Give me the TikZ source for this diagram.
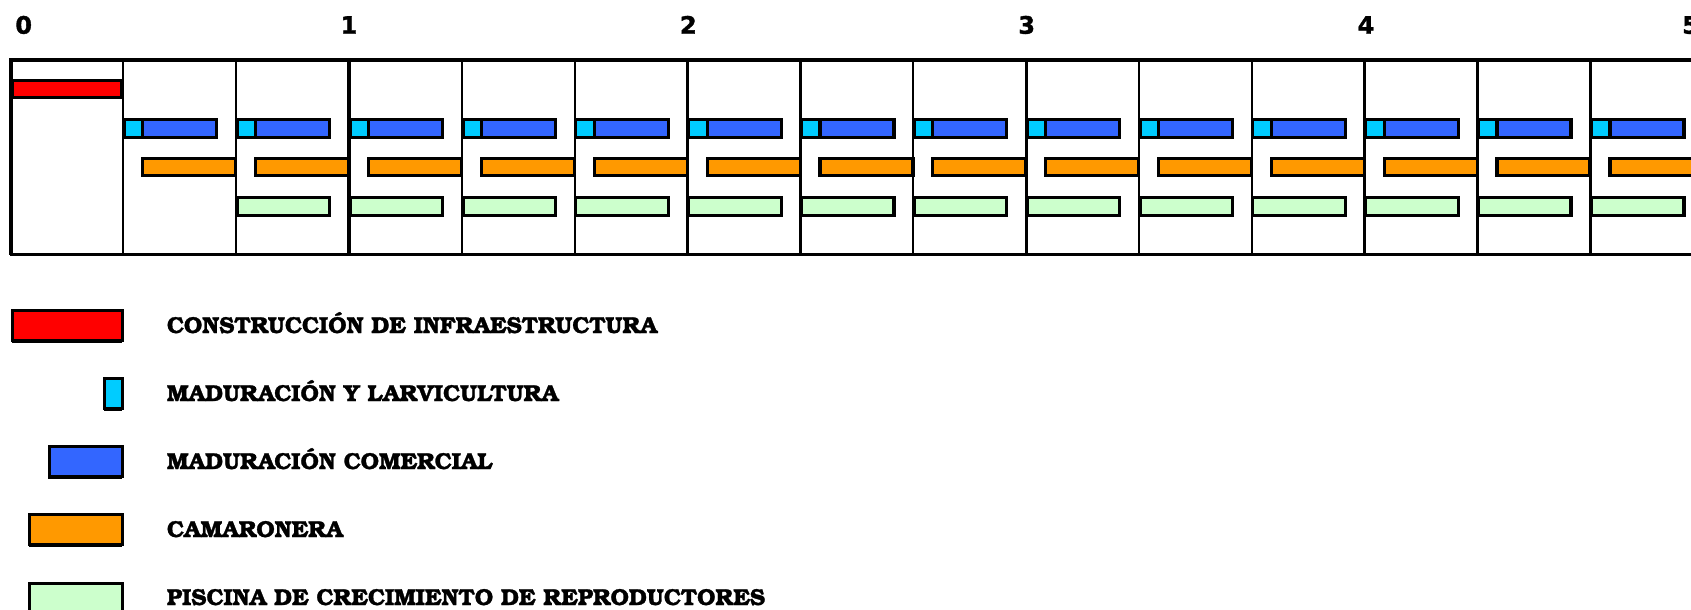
\documentclass[tikz,border=0pt]{standalone}
\usepackage{fontspec}
\newfontfamily\legendfont{TeX Gyre Bonum}[BoldFeatures={FakeBold=1.2}]
\newfontfamily\numfont{DejaVu Sans}[BoldFeatures={FakeBold=1.5}]
\definecolor{cred}{HTML}{FF0000}
\definecolor{ccyan}{HTML}{00CCFF}
\definecolor{cblue}{HTML}{3366FF}
\definecolor{corange}{HTML}{FF9900}
\definecolor{cgreen}{HTML}{CCFFCC}
\tikzset{
  bar/.style={draw=black, line width=3.2pt},
  thickline/.style={draw=black, line width=3.2pt},
  thinline/.style={draw=black, line width=2.2pt},
  yearlabel/.style={font=\numfont\bfseries\fontsize{24}{27}\selectfont, inner sep=0pt, anchor=base},
  legendtext/.style={font=\legendfont\bfseries\fontsize{23}{26}\selectfont, inner sep=0pt, anchor=base west},
  swatch/.style={draw=black, line width=3.2pt},
  shadowbox/.style={fill=black, draw=none}
}
\begin{document}
\begin{tikzpicture}[x=1pt,y=-1pt]
\useasboundingbox (0,0) rectangle (1691,610);
\clip (0,0) rectangle (1691,610);
% year labels
\node[yearlabel] (y0) at (23.7,33.7) {0};
\node[yearlabel] (y1) at (349,33.7) {1};
\node[yearlabel] (y2) at (688.3,33.7) {2};
\node[yearlabel] (y3) at (1026.7,33.7) {3};
\node[yearlabel] (y4) at (1366,33.7) {4};
\node[yearlabel, anchor=base west] (y5) at (1682,33.7) {5};
% grid frame
\draw[thickline] (11,254.5) -- (11,60) -- (1720,60);
\draw[thickline] (9.5,254.5) -- (1720,254.5);
% column lines
\foreach \k in {1,...,14}{
  \pgfmathsetmacro{\L}{10.5+112.85*\k}
  \pgfmathtruncatemacro{\m}{mod(\k,3)}
  \ifnum\m=0
    \draw[thickline] (\L,60) -- (\L,254.5);
  \else
    \draw[thinline] (\L,60) -- (\L,254.5);
  \fi
}
% construction bar
\filldraw[bar, fill=cred] (12.5,80.8) rectangle (122,97.2);
% bars per column
\foreach \k in {1,...,14}{
  \pgfmathsetmacro{\L}{10.5+112.85*\k}
  \filldraw[bar, fill=cblue] (\L+1,119.2) rectangle (\L+93.5,137.5);
  \filldraw[bar, fill=ccyan] (\L+1,119.2) rectangle (\L+19.5,137.5);
  \filldraw[bar, fill=corange] (\L+19.5,158.2) rectangle (\L+112.5,175.5);
}
\foreach \k in {2,...,14}{
  \pgfmathsetmacro{\L}{10.5+112.85*\k}
  \filldraw[bar, fill=cgreen] (\L+1,197.2) rectangle (\L+93.5,215.5);
}
% legend
\fill[shadowbox] (11.5,311.8) rectangle (121.8,343.3);
\filldraw[swatch, fill=cred] (12.5,310.8) rectangle (122.8,340.8);
\fill[shadowbox] (103.5,379.5) rectangle (121.8,411);
\filldraw[swatch, fill=ccyan] (104.5,378.5) rectangle (122.8,408.5);
\fill[shadowbox] (48.2,447.5) rectangle (121.8,479);
\filldraw[swatch, fill=cblue] (49.2,446.5) rectangle (122.8,476.5);
\fill[shadowbox] (28.8,515.5) rectangle (121.8,547);
\filldraw[swatch, fill=corange] (29.8,514.5) rectangle (122.8,544.5);
\fill[shadowbox] (28.8,584.2) rectangle (121.8,615.7);
\filldraw[swatch, fill=cgreen] (29.8,583.2) rectangle (122.8,613.2);
\node[legendtext] (l1) at (166.7,333) {CONSTRUCCIÓN DE INFRAESTRUCTURA};
\node[legendtext] (l2) at (166.7,401) {MADURACIÓN Y LARVICULTURA};
\node[legendtext] (l3) at (166.7,469) {MADURACIÓN COMERCIAL};
\node[legendtext] (l4) at (166.7,537) {CAMARONERA};
\node[legendtext] (l5) at (166.7,605) {PISCINA DE CRECIMIENTO DE REPRODUCTORES};
\end{tikzpicture}
\end{document}
